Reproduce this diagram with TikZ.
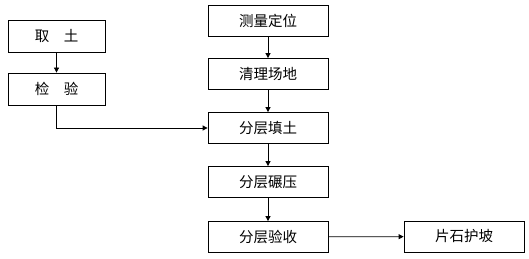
\documentclass[tikz,border=0pt]{standalone}
\usepackage{fontspec}
\newfontfamily\cjk{Noto Sans CJK SC}
\usetikzlibrary{arrows.meta}
\tikzset{
    base/.style={draw, line width=0.8pt, align=center, inner sep=0pt, font=\cjk\fontsize{14.5}{16}\selectfont},
    smallbox/.style={base, rectangle, minimum width=97pt, minimum height=32pt},
    box/.style={base, rectangle, minimum width=120pt, minimum height=31pt},
    arrow/.style={-{Triangle[length=5pt, width=5pt]}, line width=0.8pt}
}
\begin{document}
\begin{tikzpicture}[x=1pt, y=-1pt]
    \useasboundingbox (0,0) rectangle (529,259);

    % Left column
    \node[smallbox] (qutu) at (56.5, 36) {取\hspace{1em}土};
    \node[smallbox] (jianyan) at (56.5, 89) {检\hspace{1em}验};

    % Main column
    \node[box] (celiang) at (268, 20.5) {测量定位};
    \node[box] (qingli) at (268, 74) {清理场地};
    \node[box] (tiantu) at (268, 128) {分层填土};
    \node[box] (nianya) at (268, 182) {分层碾压};
    \node[box] (yanshou) at (268, 237) {分层验收};

    % Right
    \node[box] (hupo) at (464, 236.5) {片石护坡};

    % Arrows
    \draw[arrow] (qutu) -- (jianyan);
    \draw[arrow] (jianyan) |- (tiantu);
    \draw[arrow] (celiang) -- (qingli);
    \draw[arrow] (qingli) -- (tiantu);
    \draw[arrow] (tiantu) -- (nianya);
    \draw[arrow] (nianya) -- (yanshou);
    \draw[arrow] (yanshou) -- (hupo);
\end{tikzpicture}
\end{document}
